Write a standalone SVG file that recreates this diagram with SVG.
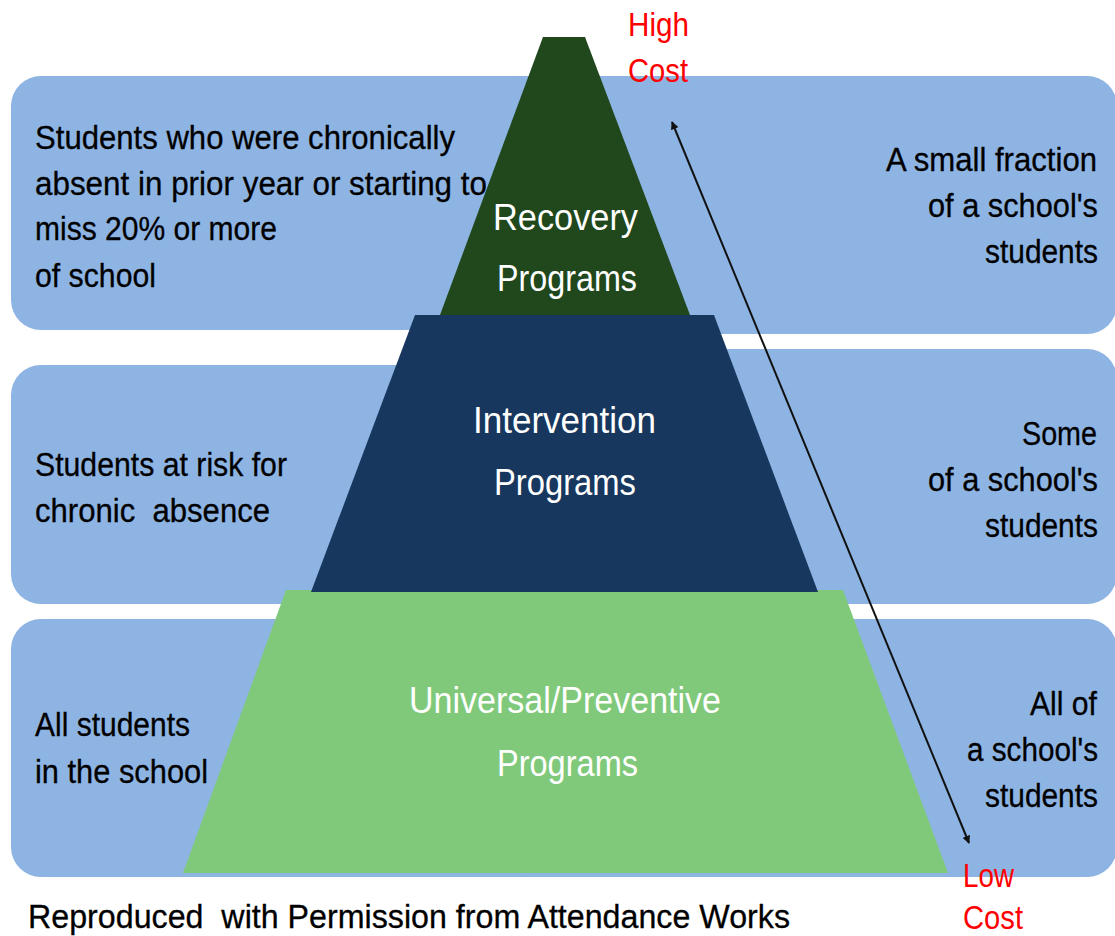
<svg xmlns="http://www.w3.org/2000/svg" width="1115" height="936" viewBox="0 0 1115 936">
<style>
.band{fill:#8EB4E3}
.t{font-family:"Liberation Sans",Arial,sans-serif;font-size:33px;fill:#000;stroke:#000;stroke-width:0.3}
.p{font-family:"Liberation Sans",Arial,sans-serif;font-size:37px;fill:#fff}
.r{font-family:"Liberation Sans",Arial,sans-serif;font-size:33px;fill:#ff0000}
</style>
<defs>
<marker id="ah" viewBox="0 0 10 10" refX="9" refY="5" markerWidth="8" markerHeight="8" orient="auto-start-reverse" markerUnits="userSpaceOnUse">
<path d="M0,0 L10,5 L0,10 z" fill="#111"/>
</marker>
</defs>
<rect width="1115" height="936" fill="#fff"/>
<g id="bands">
<rect class="band" x="11" y="76" width="620" height="254" rx="30"/>
<rect class="band" x="500" y="76" width="617" height="258" rx="30"/>
<rect class="band" x="11" y="365" width="620" height="239" rx="30"/>
<rect class="band" x="500" y="349" width="617" height="255" rx="30"/>
<rect class="band" x="11" y="619" width="620" height="258" rx="30"/>
<rect class="band" x="500" y="619" width="617" height="258" rx="30"/>
</g>
<g id="universal">
<polygon points="286,590 843,590 948,873 183,873" fill="#80C97B"/>
<text class="p" x="409" y="713" textLength="312" lengthAdjust="spacingAndGlyphs">Universal/Preventive</text>
<text class="p" x="497" y="776" textLength="141" lengthAdjust="spacingAndGlyphs">Programs</text>
</g>
<g id="intervention">
<polygon points="415,315 714,315 818,592 311,592" fill="#17375E"/>
<text class="p" x="473" y="433" textLength="183" lengthAdjust="spacingAndGlyphs">Intervention</text>
<text class="p" x="494" y="495" textLength="142" lengthAdjust="spacingAndGlyphs">Programs</text>
</g>
<g id="recovery">
<polygon points="543,37 585,37 690,315 440,315" fill="#21471D"/>
<text class="p" x="493" y="230" textLength="145" lengthAdjust="spacingAndGlyphs">Recovery</text>
<text class="p" x="497" y="291" textLength="140" lengthAdjust="spacingAndGlyphs">Programs</text>
</g>
<g id="connectors">
<line x1="672" y1="122" x2="969" y2="843" stroke="#111" stroke-width="2" marker-start="url(#ah)" marker-end="url(#ah)"/>
</g>
<g id="left-texts">
<text class="t" x="35" y="149" textLength="420" lengthAdjust="spacingAndGlyphs">Students who were chronically</text>
<text class="t" x="35" y="195" textLength="452" lengthAdjust="spacingAndGlyphs">absent in prior year or starting to</text>
<text class="t" x="35" y="240" textLength="242" lengthAdjust="spacingAndGlyphs">miss 20% or more</text>
<text class="t" x="35" y="287" textLength="121" lengthAdjust="spacingAndGlyphs">of school</text>
<text class="t" x="35" y="476" textLength="252" lengthAdjust="spacingAndGlyphs">Students at risk for</text>
<text class="t" x="35" y="522" textLength="235" lengthAdjust="spacingAndGlyphs" xml:space="preserve">chronic  absence</text>
<text class="t" x="35" y="736" textLength="155" lengthAdjust="spacingAndGlyphs">All students</text>
<text class="t" x="35" y="783" textLength="173" lengthAdjust="spacingAndGlyphs">in the school</text>
</g>
<g id="right-texts">
<text class="t" x="886" y="171" textLength="211" lengthAdjust="spacingAndGlyphs">A small fraction</text>
<text class="t" x="928" y="217" textLength="170" lengthAdjust="spacingAndGlyphs">of a school's</text>
<text class="t" x="985" y="263" textLength="113" lengthAdjust="spacingAndGlyphs">students</text>
<text class="t" x="1022" y="445" textLength="75" lengthAdjust="spacingAndGlyphs">Some</text>
<text class="t" x="928" y="491" textLength="170" lengthAdjust="spacingAndGlyphs">of a school's</text>
<text class="t" x="985" y="537" textLength="113" lengthAdjust="spacingAndGlyphs">students</text>
<text class="t" x="1030" y="715" textLength="67" lengthAdjust="spacingAndGlyphs">All of</text>
<text class="t" x="967" y="761" textLength="131" lengthAdjust="spacingAndGlyphs">a school's</text>
<text class="t" x="985" y="807" textLength="113" lengthAdjust="spacingAndGlyphs">students</text>
</g>
<g id="cost-labels">
<text class="r" x="628" y="36" textLength="61" lengthAdjust="spacingAndGlyphs">High</text>
<text class="r" x="628" y="82" textLength="60" lengthAdjust="spacingAndGlyphs">Cost</text>
<text class="r" x="963" y="887" textLength="51" lengthAdjust="spacingAndGlyphs">Low</text>
<text class="r" x="963" y="929" textLength="60" lengthAdjust="spacingAndGlyphs">Cost</text>
</g>
<g id="credit">
<text class="t" x="28" y="928" textLength="762" lengthAdjust="spacingAndGlyphs" xml:space="preserve">Reproduced  with Permission from Attendance Works</text>
</g>
</svg>
